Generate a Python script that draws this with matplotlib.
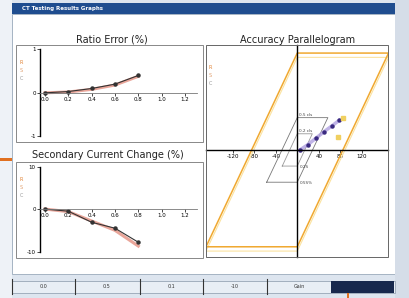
import matplotlib.pyplot as plt
from matplotlib.patches import Rectangle

# ratio error vs current (per unit)
current = [0.0, 0.2, 0.4, 0.6, 0.8]
ratio_err_meas = [0.0, 0.03, 0.10, 0.20, 0.40]
ratio_err_ref = [0.0, 0.02, 0.08, 0.18, 0.38]

# secondary current change (%)
sec_change_meas = [0.0, -0.5, -3.1, -4.5, -7.8]
sec_change_ref = [0.0, -0.6, -2.8, -5.0, -8.7]

x_ticks = [0.0, 0.2, 0.4, 0.6, 0.8, 1.0, 1.2]
x_tick_labels = ["0.0", "0.2", "0.4", "0.6", "0.8", "1.0", "1.2"]

# accuracy parallelogram
outer_x = [-170, 0, 170, 0, -170]
outer_y = [-180, 180, 180, -180, -180]
class1_x = [-57, 0, 57, 0, -57]
class1_y = [-60, 60, 60, -60, -60]
class2_x = [-28, 0, 28, 0, -28]
class2_y = [-30, 30, 30, -30, -30]
par_ticks = [-120, -80, -40, 40, 80, 120]
meas_x = [5, 20, 35, 50, 65, 78]
meas_y = [0, 10, 22, 34, 45, 55]
ref_x = [86, 76]
ref_y = [60, 24]

tab_labels = ["0.0", "0.5", "0.1", "-10", "Gain"]

W, H = 410, 298
fig = plt.figure(figsize=(W / 100, H / 100), dpi=100)
fig.patch.set_facecolor("#dde5ef")


def box(x0, y0, x1, y1):
    # pixel box (top-left origin) -> figure fraction rect
    return [x0 / W, 1 - y1 / H, (x1 - x0) / W, (y1 - y0) / H]


def rect(x0, y0, x1, y1, z=0.5, **kw):
    r = Rectangle((x0 / W, 1 - y1 / H), (x1 - x0) / W, (y1 - y0) / H,
                  transform=fig.transFigure, zorder=z, **kw)
    fig.patches.append(r)


# window chrome
rect(0, 0, 12, 298, facecolor="#eef2f7", edgecolor="none")
rect(12, 14, 395, 274, facecolor="white", edgecolor="#9aaabb", lw=0.6)
rect(12, 3, 395, 14, facecolor="#1f4d8f", edgecolor="none")
rect(395, 0, 410, 298, facecolor="#d5dde8", edgecolor="none")
fig.text(22 / W, 1 - 8.5 / H, "CT Testing Results Graphs", color="white",
         fontsize=4, va="center", fontweight="bold")
rect(0, 158, 12, 161, facecolor="#e07020", edgecolor="none")

# plot frames
rect(16, 45, 203, 142, z=3, facecolor="none", edgecolor="#888888", lw=0.7)
rect(16, 162, 203, 258, z=3, facecolor="none", edgecolor="#888888", lw=0.7)
rect(206, 45, 388, 257, z=3, facecolor="none", edgecolor="#666666", lw=0.7)

fig.text(112 / W, 1 - 40 / H, "Ratio Error (%)", fontsize=7, ha="center", va="center", color="#222222")
fig.text(108 / W, 1 - 155 / H, "Secondary Current Change (%)", fontsize=7, ha="center", va="center", color="#222222")
fig.text(298 / W, 1 - 40 / H, "Accuracy Parallelogram", fontsize=7, ha="center", va="center", color="#222222")


def small_plot(pos, meas, ref, ylim, yticks, yticklabels, x_spine):
    ax = fig.add_axes(pos)
    ax.set_zorder(2)
    ax.patch.set_alpha(0)
    ax.set_xlim(-0.248, 1.354)
    ax.set_ylim(*ylim)
    for s in ("top", "right"):
        ax.spines[s].set_visible(False)
    ax.spines["left"].set_position(("data", x_spine))
    ax.spines["left"].set_bounds(yticks[-1], yticks[0])
    ax.spines["bottom"].set_position(("data", 0))
    ax.spines["bottom"].set_bounds(x_spine, 1.3)
    ax.spines["bottom"].set_color("#777777")
    ax.spines["left"].set_linewidth(1.0)
    ax.spines["bottom"].set_linewidth(0.6)
    ax.set_xticks(x_ticks)
    ax.set_xticklabels(x_tick_labels)
    ax.set_yticks(yticks)
    ax.set_yticklabels(yticklabels)
    ax.tick_params(labelsize=4, length=2, width=0.5, pad=1)
    ax.plot(current, ref, color="#e08070", lw=2.2, alpha=0.7)
    ax.plot(current, meas, color="#333333", lw=0.8, marker="o", ms=2.2)
    # tiny legend markers
    ax.text(0.02, 0.80, "R", transform=ax.transAxes, fontsize=3.5, color="#e08030")
    ax.text(0.02, 0.72, "S", transform=ax.transAxes, fontsize=3.5, color="#e0a070")
    ax.text(0.02, 0.64, "C", transform=ax.transAxes, fontsize=3.5, color="#999999")
    return ax


small_plot(box(16, 45, 203, 142), ratio_err_meas, ratio_err_ref,
           (-1.13, 1.10), [1, 0, -1], ["1", "0", "-1"], -0.043)
small_plot(box(16, 162, 203, 258), sec_change_meas, sec_change_ref,
           (-11.5, 11.06), [10, 0, -10], ["10", "0", "-10"], -0.043)

# parallelogram plot
ax3 = fig.add_axes(box(206, 45, 388, 257))
ax3.set_zorder(2)
ax3.patch.set_alpha(0)
ax3.set_xlim(-170, 169)
ax3.set_ylim(-199, 195)
for s in ("top", "right"):
    ax3.spines[s].set_visible(False)
ax3.spines["left"].set_position(("data", 0))
ax3.spines["bottom"].set_position(("data", 0))
ax3.spines["left"].set_linewidth(1.0)
ax3.spines["bottom"].set_linewidth(1.0)
ax3.set_xticks(par_ticks)
ax3.set_xticklabels([str(t) for t in par_ticks])
ax3.set_yticks([])
ax3.tick_params(labelsize=4, length=2, width=0.5, pad=1)

ax3.plot(outer_x, [v - 8 for v in outer_y], color="#fbe3a0", lw=0.8)
ax3.plot(outer_x, outer_y, color="#f0a830", lw=1.1)
ax3.plot(class1_x, class1_y, color="#777777", lw=0.6)
ax3.plot(class2_x, class2_y, color="#999999", lw=0.6)
ax3.text(4, 62, "0.5 cls", fontsize=3, color="#444444", va="bottom")
ax3.text(4, 31, "0.2 cls", fontsize=3, color="#444444", va="bottom")
ax3.text(5, -28, "0.2S", fontsize=3, color="#444444", va="top")
ax3.text(5, -58, "0.5S%", fontsize=3, color="#444444", va="top")
ax3.plot(meas_x, meas_y, color="#b0a0e0", lw=2.5, alpha=0.8)
ax3.plot(meas_x, meas_y, color="#3a2a80", lw=0, marker="o", ms=2.2)
ax3.plot(ref_x, ref_y, color="#f0d060", lw=0, marker="s", ms=3)
ax3.text(-165, 150, "R", fontsize=3.5, color="#e08030")
ax3.text(-165, 135, "S", fontsize=3.5, color="#e0a070")
ax3.text(-165, 120, "C", fontsize=3.5, color="#999999")

# bottom tab bar
rect(12, 281, 395, 293, facecolor="#e8eef5", edgecolor="#8898aa", lw=0.5)
tab_edges = [12, 75, 140, 203, 267]
for i, lab in enumerate(tab_labels):
    x0 = tab_edges[i]
    fig.lines.append(plt.Line2D([x0 / W, x0 / W], [1 - 294 / H, 1 - 279 / H],
                                transform=fig.transFigure, color="#333333", lw=0.8))
    fig.text((x0 + 32) / W, 1 - 287 / H, lab, fontsize=3.5, ha="center", va="center", color="#333333")
rect(331, 281, 394, 293, facecolor="#17284d", edgecolor="none")
rect(347, 293, 349, 298, facecolor="#e07020", edgecolor="none")

fig.savefig("out.png", dpi=100, facecolor=fig.get_facecolor())
